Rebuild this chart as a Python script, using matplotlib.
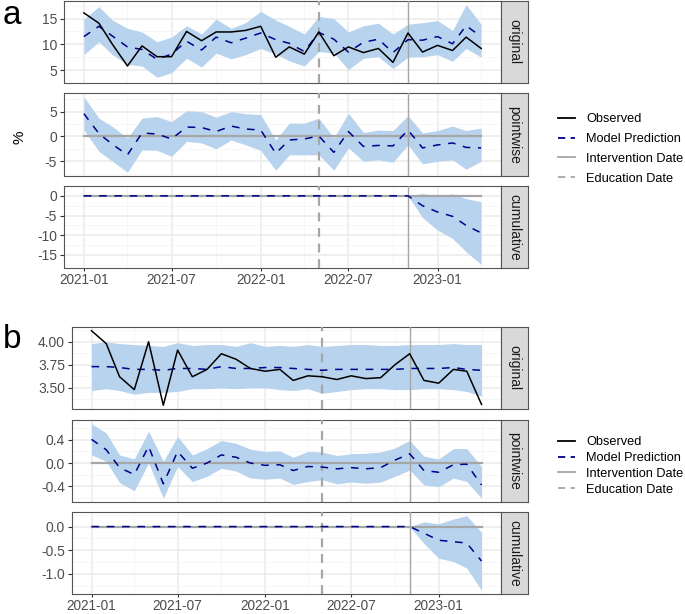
import matplotlib
matplotlib.use("Agg")
import matplotlib.pyplot as plt
import pandas as pd
from matplotlib.lines import Line2D

plt.rcParams['font.family'] = ['Liberation Sans', 'DejaVu Sans']
plt.rcParams['axes.unicode_minus'] = False

W, H = 685, 614

months = pd.date_range("2021-01-01", "2023-04-01", freq="MS")
intervention_date = pd.Timestamp("2022-11-01")
education_date = pd.Timestamp("2022-05-01")

# ---- panel a ----
a_observed = [16.1, 14.1, 10.0, 5.8, 9.7, 7.6, 7.6, 12.5, 10.7, 12.4, 12.4, 12.7, 13.5, 7.5,
              9.5, 8.1, 12.4, 7.8, 9.5, 8.4, 9.2, 6.5, 12.2, 8.5, 9.8, 8.8, 11.4, 9.2]
a_pred = [11.5, 13.5, 11.6, 9.5, 9.0, 7.1, 8.1, 10.6, 8.9, 11.4, 10.3, 11.2, 12.2, 10.9,
          10.2, 8.6, 12.3, 11.0, 8.5, 10.4, 11.0, 8.4, 10.9, 10.8, 11.5, 10.1, 13.6, 11.5]
a_upper = [14.9, 17.3, 14.7, 13.1, 12.4, 10.5, 11.4, 13.6, 12.0, 14.9, 13.1, 14.2, 16.4, 14.7,
           13.5, 12.0, 15.4, 15.0, 12.4, 13.6, 14.1, 12.0, 13.9, 14.2, 14.6, 12.7, 17.7, 13.9]
a_lower = [8.0, 10.5, 8.0, 6.1, 5.8, 3.6, 4.5, 7.3, 5.6, 8.3, 7.2, 8.0, 9.2, 8.1,
           6.8, 5.8, 8.6, 8.3, 5.1, 7.3, 7.6, 5.3, 7.5, 7.6, 8.0, 6.7, 9.2, 7.5]
a_pw = [4.6, 0.6, -1.6, -3.7, 0.7, 0.5, -0.5, 1.9, 1.8, 1.0, 2.1, 1.5, 1.3, -3.4,
        -0.7, -0.5, 0.1, -3.2, 1.0, -2.0, -1.8, -1.9, 1.3, -2.3, -1.7, -1.3, -2.2, -2.3]
a_pw_upper = [8.0, 3.7, 2.0, -0.3, 3.7, 4.0, 3.0, 5.2, 5.0, 3.9, 5.0, 4.6, 4.4, -0.7,
              2.7, 2.7, 3.7, -0.3, 4.7, 0.8, 1.3, 1.2, 4.2, 0.7, 1.2, 2.1, 1.2, 1.7]
a_pw_lower = [1.3, -3.0, -5.0, -7.2, -2.7, -2.8, -4.0, -1.0, -1.3, -2.5, -0.7, -1.7, -2.8, -6.8,
              -3.7, -3.7, -3.7, -6.8, -2.3, -5.0, -4.7, -5.2, -1.7, -5.5, -5.0, -4.7, -6.6, -5.0]
a_cum = [0.0] * 22 + [0.0, -2.5, -4.1, -5.2, -7.5, -9.4]
a_cum_upper = [0.0] * 22 + [0.0, 0.6, 0.0, 0.5, -0.7, -1.5]
a_cum_lower = [0.0] * 22 + [0.0, -5.5, -8.7, -10.8, -14.2, -17.4]

# ---- panel b ----
b_observed = [4.12, 3.98, 3.62, 3.48, 4.00, 3.31, 3.91, 3.62, 3.70, 3.87, 3.81, 3.71, 3.68, 3.70,
              3.58, 3.63, 3.62, 3.59, 3.63, 3.60, 3.61, 3.75, 3.87, 3.58, 3.55, 3.70, 3.68, 3.32]
b_pred = [3.73, 3.73, 3.72, 3.70, 3.70, 3.69, 3.71, 3.71, 3.70, 3.73, 3.71, 3.71, 3.72, 3.72,
          3.71, 3.70, 3.69, 3.70, 3.70, 3.70, 3.70, 3.70, 3.71, 3.71, 3.71, 3.72, 3.70, 3.69]
b_upper = [3.98, 4.00, 3.98, 3.97, 3.96, 3.95, 3.99, 3.96, 3.97, 3.97, 3.95, 3.99, 3.95, 3.96,
           3.95, 3.97, 3.95, 3.96, 3.97, 3.97, 3.96, 3.96, 3.97, 3.97, 3.97, 3.98, 3.97, 3.97]
b_lower = [3.47, 3.49, 3.47, 3.43, 3.45, 3.45, 3.46, 3.49, 3.49, 3.50, 3.49, 3.50, 3.50, 3.48,
           3.47, 3.49, 3.44, 3.46, 3.48, 3.49, 3.49, 3.48, 3.48, 3.49, 3.49, 3.48, 3.46, 3.41]
b_pw = [0.41, 0.23, -0.08, -0.20, 0.29, -0.36, 0.20, -0.09, 0.00, 0.14, 0.10, 0.00, -0.04, -0.03,
        -0.13, -0.06, -0.07, -0.10, -0.08, -0.10, -0.08, 0.05, 0.16, -0.13, -0.16, -0.03, -0.02, -0.38]
b_pw_upper = [0.68, 0.52, 0.14, 0.07, 0.55, 0.03, 0.46, 0.14, 0.25, 0.39, 0.34, 0.24, 0.20, 0.21,
              0.10, 0.20, 0.19, 0.13, 0.16, 0.17, 0.19, 0.26, 0.39, 0.12, 0.07, 0.25, 0.25, -0.06]
b_pw_lower = [0.14, 0.03, -0.34, -0.48, 0.00, -0.61, -0.06, -0.32, -0.23, -0.09, -0.14, -0.26, -0.28, -0.26,
              -0.37, -0.32, -0.29, -0.36, -0.33, -0.35, -0.33, -0.23, -0.12, -0.38, -0.41, -0.26, -0.32, -0.61]
b_cum = [0.0] * 22 + [0.0, -0.14, -0.29, -0.32, -0.35, -0.73]
b_cum_upper = [0.0] * 22 + [0.0, 0.10, 0.06, 0.16, 0.23, -0.12]
b_cum_lower = [0.0] * 22 + [0.0, -0.36, -0.67, -0.74, -0.88, -1.35]

facet_names = ["original", "pointwise", "cumulative"]
a_yticks = [[5, 10, 15], [-5, 0, 5], [-15, -10, -5, 0]]
b_yticks = [[3.50, 3.75, 4.00], [-0.4, 0.0, 0.4], [-1.0, -0.5, 0.0]]
x_major = pd.to_datetime(["2021-01-01", "2021-07-01", "2022-01-01", "2022-07-01", "2023-01-01"])
x_minor = pd.to_datetime(["2021-04-01", "2021-10-01", "2022-04-01", "2022-10-01", "2023-04-01"])
legend_labels = ["Observed", "Model Prediction", "Intervention Date", "Education Date"]

BAND = "#b8d3ee"
PRED = "#00008b"
VLINE = "#a6a6a6"
BORDER = "#555555"


def px_axes(fig, x0, y0, x1, y1):
    return fig.add_axes([x0 / W, 1 - y1 / H, (x1 - x0) / W, (y1 - y0) / H])


def style_axes(ax, yticks, fmt, show_x):
    step = yticks[1] - yticks[0]
    minor = [t - step / 2 for t in yticks] + [yticks[-1] + step / 2]
    ax.set_yticks(yticks)
    ax.set_yticklabels([fmt.format(t) for t in yticks])
    ax.set_yticks(minor, minor=True)
    ax.set_xticks(x_major)
    ax.set_xticks(x_minor, minor=True)
    if show_x:
        ax.set_xticklabels([d.strftime("%Y-%m") for d in x_major])
    else:
        ax.set_xticklabels([])
    ax.grid(True, which="major", color="#ebebeb", lw=1.1, zorder=0)
    ax.grid(True, which="minor", color="#f5f5f5", lw=0.6, zorder=0)
    ax.set_axisbelow(True)
    ax.tick_params(which="minor", length=0)
    ax.tick_params(axis="y", which="major", length=3, color="#333333", labelsize=10,
                   labelcolor="#4d4d4d", pad=2)
    ax.tick_params(axis="x", which="major", length=2.5 if show_x else 0, color="#333333",
                   labelsize=9.8, labelcolor="#4d4d4d", pad=1)
    for s in ax.spines.values():
        s.set_color(BORDER)
        s.set_linewidth(0.8)


def add_strip(fig, x1, y0, y1, label):
    sax = px_axes(fig, x1, y0, x1 + 27, y1)
    sax.set_facecolor("#d9d9d9")
    sax.set_xticks([])
    sax.set_yticks([])
    for s in sax.spines.values():
        s.set_color(BORDER)
        s.set_linewidth(0.8)
    sax.text(0.5, 0.5, label, rotation=-90, ha="center", va="center",
             fontsize=10, color="#1a1a1a", transform=sax.transAxes)


def draw_block(fig, x0, tops, series, yticks, fmts):
    x1 = 501
    for i, (y0, y1) in enumerate(tops):
        ax = px_axes(fig, x0, y0, x1, y1)
        mid, lo, hi = series[i][:3]
        ax.fill_between(months, lo, hi, color=BAND, lw=0, zorder=1)
        if i > 0:
            ax.plot(months, [0.0] * len(months), color="#a6a6a6", lw=1.6, zorder=2)
        ax.axvline(intervention_date, color=VLINE, lw=1.0, zorder=3)
        ax.axvline(education_date, color=VLINE, lw=1.6, ls=(0, (4, 3)), zorder=3)
        ax.plot(months, mid, color=PRED, lw=1.1, ls=(0, (5, 5)), zorder=4)
        if i == 0:
            ax.plot(months, series[i][3], color="black", lw=1.1, zorder=5)
        ax.margins(x=0.05, y=0.05)
        style_axes(ax, yticks[i], fmts[i], show_x=(i == 2))
        add_strip(fig, x1, y0, y1, facet_names[i])


def add_legend(fig, y_center, spacing):
    handles = [
        Line2D([], [], color="black", lw=1.3),
        Line2D([], [], color=PRED, lw=1.3, ls=(0, (4, 3))),
        Line2D([], [], color=VLINE, lw=1.3),
        Line2D([], [], color=VLINE, lw=1.3, ls=(0, (4, 3))),
    ]
    fig.legend(handles, legend_labels, loc="center left", bbox_to_anchor=(549 / W, 1 - y_center / H),
               frameon=False, fontsize=9.2, handlelength=1.3, handletextpad=0.9,
               labelspacing=spacing, borderpad=0.2)


fig = plt.figure(figsize=(W / 100, H / 100), dpi=100)

draw_block(fig, 64, [(1, 83), (93, 176), (186, 268)],
           [(a_pred, a_lower, a_upper, a_observed),
            (a_pw, a_pw_lower, a_pw_upper),
            (a_cum, a_cum_lower, a_cum_upper)],
           a_yticks, ["{:g}", "{:g}", "{:g}"])
draw_block(fig, 72, [(327, 409), (420, 502), (512, 594)],
           [(b_pred, b_lower, b_upper, b_observed),
            (b_pw, b_pw_lower, b_pw_upper),
            (b_cum, b_cum_lower, b_cum_upper)],
           b_yticks, ["{:.2f}", "{:.1f}", "{:.1f}"])

fig.text(20 / W, 1 - 137 / H, "%", rotation=90, ha="center", va="center", fontsize=11, color="black")
fig.text(3 / W, 1 - 16 / H, "a", ha="left", va="center", fontsize=24, color="black")
fig.text(3 / W, 1 - 340 / H, "b", ha="left", va="center", fontsize=24, color="black")

add_legend(fig, 149, 0.62)
add_legend(fig, 466, 0.30)

fig.savefig("out.png", dpi=100)
